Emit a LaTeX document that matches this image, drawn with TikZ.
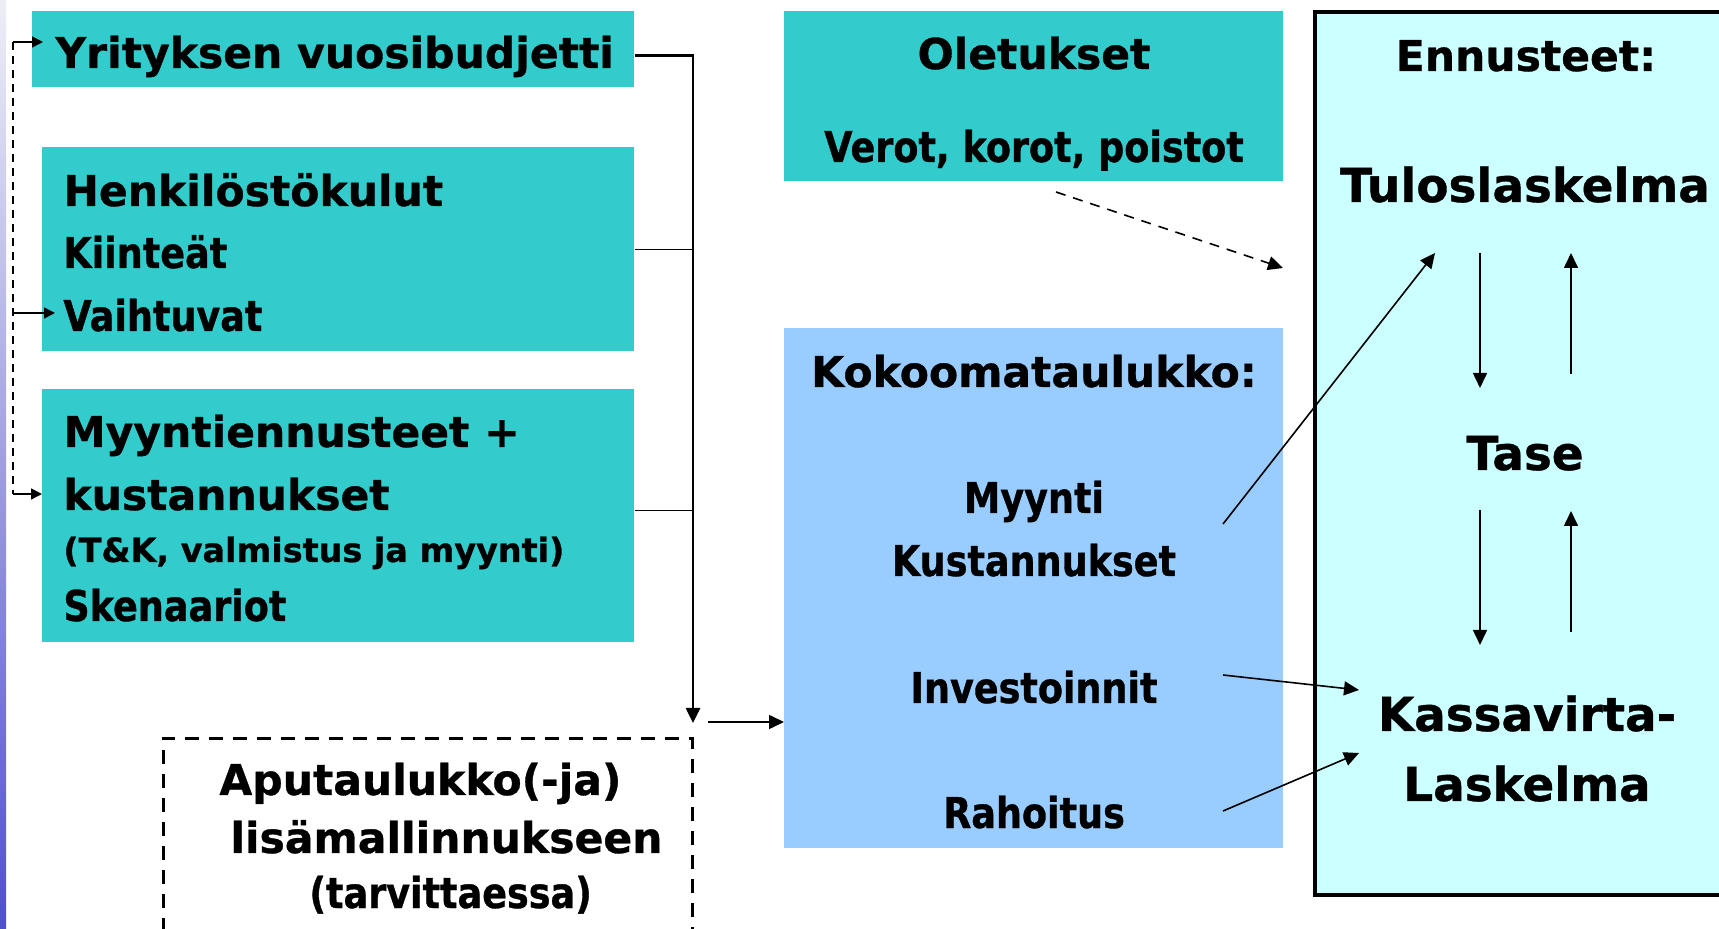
\documentclass[tikz,border=0pt]{standalone}
\usepackage{fontspec}
\setmainfont{DejaVu Sans}[BoldFeatures={FakeBold=0.8}]
\newfontfamily\kapeafont{DejaVu Sans}[FakeStretch=0.86, BoldFeatures={FakeBold=0.8}]
\usetikzlibrary{arrows.meta,positioning}
\definecolor{turkoosi}{RGB}{51,204,204}
\definecolor{vaaleansin}{RGB}{153,204,255}
\definecolor{syaani}{RGB}{204,255,255}
\tikzset{
  boxA/.style={ fill=turkoosi, inner sep=0, anchor=north west }
}
\tikzset{
  boxB/.style={ fill=vaaleansin, inner sep=0, anchor=north west }
}
\tikzset{
  boxC/.style={ draw, line width=1.8pt, fill=syaani, inner sep=0, anchor=north west }
}
\tikzset{
  boxD/.style={ draw, line width=1.3pt, dash pattern=on 7pt off 5pt, inner sep=0, anchor=north west }
}
\tikzset{
  txt/.style={ inner sep=0, font=\fontsize{21.25}{26}\selectfont\bfseries }
}
\tikzset{
  txtN/.style={ inner sep=0, font=\kapeafont\fontsize{21.25}{26}\selectfont\bfseries }
}
\tikzset{
  txtL/.style={ inner sep=0, font=\fontsize{23.4}{28}\selectfont\bfseries }
}
\tikzset{
  txtS/.style={ inner sep=0, font=\fontsize{16.7}{20}\selectfont\bfseries }
}
\tikzset{
  arr/.style={ -{Triangle[length=7.5pt,width=7pt]}, line width=0.8pt }
}
\tikzset{
  arrS/.style={ -{Triangle[length=5.5pt,width=5.5pt]}, line width=0.8pt }
}

\begin{document}
\begin{tikzpicture}[x=0.5pt,y=-0.5pt]
      \clip (0,0) rectangle (1719,929);
      \shade[top color={rgb,255:red,238;green,238;blue,248}, bottom color={rgb,255:red,80;green,80;blue,200}] (0,0) rectangle (6,929);

      \node[boxA, minimum width=301pt, minimum height=38pt] (budjetti) at (32,11) {};
      \node[txt, anchor=base west] (Lbudjetti) at (55,68) {Yrityksen vuosibudjetti};

      \node[boxA, minimum width=296pt, minimum height=102pt] (henkilo) at (42,147) {};
      \node[txt, anchor=base west] (Lhenkilo) at (63,206) {Henkilöstökulut};
      \node[txtN, anchor=base west] (Lkiint) at (63,268) {Kiinteät};
      \node[txtN, anchor=base west] (Lvaiht) at (63,331) {Vaihtuvat};

      \node[boxA, minimum width=296pt, minimum height=126.5pt] (myynti) at (42,389) {};
      \node[txt, anchor=base west] (Lmyynti) at (63,447) {Myyntiennusteet +};
      \node[txt, anchor=base west] (Lkust) at (63,510) {kustannukset};
      \node[txtS, anchor=base west] (Ltk) at (63,562) {(T\&K, valmistus ja myynti)};
      \node[txtN, anchor=base west] (Lsken) at (63,621) {Skenaariot};

      \node[boxD, minimum width=264.5pt, minimum height=125pt] (apu) at (162,737) {};
      \node[txt, anchor=base west] (Lapu1) at (219,795) {Aputaulukko(-ja)};
      \node[txt, anchor=base west] (Lapu2) at (230,853) {lisämallinnukseen};
      \node[txtN, anchor=base west] (Lapu3) at (309,908) {(tarvittaessa)};

      \node[boxA, minimum width=249.5pt, minimum height=85pt] (oletus) at (784,11) {};
      \node[txt, anchor=base] (Loletus) at (1034,69) {Oletukset};
      \node[txtN, anchor=base] (Lverot) at (1034,162) {Verot, korot, poistot};

      \node[boxB, minimum width=249.5pt, minimum height=260pt] (kooste) at (784,328) {};
      \node[txt, anchor=base] (Lkooste) at (1034,387) {Kokoomataulukko:};
      \node[txtN, anchor=base] (Kmyynti) at (1034,513) {Myynti};
      \node[txtN, anchor=base] (Kkust) at (1034,576) {Kustannukset};
      \node[txtN, anchor=base] (Kinv) at (1034,703) {Investoinnit};
      \node[txtN, anchor=base] (Krah) at (1034,828) {Rahoitus};

      \node[boxC, minimum width=230pt, minimum height=441.5pt] (ennuste) at (1313,10) {};
      \node[txt, anchor=base] (Lennuste) at (1526,71) {Ennusteet:};
      \node[txtL, anchor=base] (tulos) at (1525,202) {Tuloslaskelma};
      \node[txtL, anchor=base] (tase) at (1525,470) {Tase};
      \node[txtL, anchor=base] (kassa1) at (1527,731) {Kassavirta-};
      \node[txtL, anchor=base] (kassa2) at (1527,801) {Laskelma};

      \coordinate (p1) at (13,42);
      \coordinate (p2) at (13,313);
      \coordinate (p3) at (13,494);
      \coordinate (kokooja) at (693,723);
      \coordinate (lahto) at (708,722);
      \coordinate (o1) at (1056,192);
      \coordinate (o2) at (1283,268);
      \coordinate (m1) at (1223,524);
      \coordinate (t1) at (1435,253);
      \coordinate (i1) at (1223,675);
      \coordinate (k1) at (1359,690);
      \coordinate (r1) at (1223,811);
      \coordinate (k2) at (1359,753);
      \coordinate (a1) at (1480,253);
      \coordinate (a2) at (1480,388);
      \coordinate (b1) at (1571,374);
      \coordinate (b2) at (1571,253);
      \coordinate (a3) at (1480,510);
      \coordinate (a4) at (1480,645);
      \coordinate (b3) at (1571,632);
      \coordinate (b4) at (1571,511);

      \draw[line width=0.8pt, dash pattern=on 4pt off 3pt] (p1) -- (p3);
      \draw[arrS] (p1) -- ([xshift=5.5pt]budjetti.west |- p1);
      \draw[arrS] (p2) -- ([xshift=-4pt]Lvaiht.west |- p2);
      \draw[arrS] (p3) -- (myynti.west |- p3);

      \draw[arr, line width=1.3pt] ([yshift=-3pt]budjetti.east) -| (kokooja);
      \draw[line width=0.8pt] (henkilo.east) -- (henkilo.east -| kokooja);
      \draw[line width=0.8pt] ([yshift=2.75pt]myynti.east) -- ([yshift=2.75pt]myynti.east -| kokooja);
      \draw[arr] (lahto) -- (lahto -| kooste.west);

      \draw[arr, dash pattern=on 5pt off 4pt] (o1) -- (o2);

      \begin{scope}[arr]
        \draw (m1) -- (t1);
        \draw (i1) -- (k1);
        \draw (r1) -- (k2);
        \draw (a1) -- (a2);
        \draw (b1) -- (b2);
        \draw (a3) -- (a4);
        \draw (b3) -- (b4);
      \end{scope}
\end{tikzpicture}
\end{document}
